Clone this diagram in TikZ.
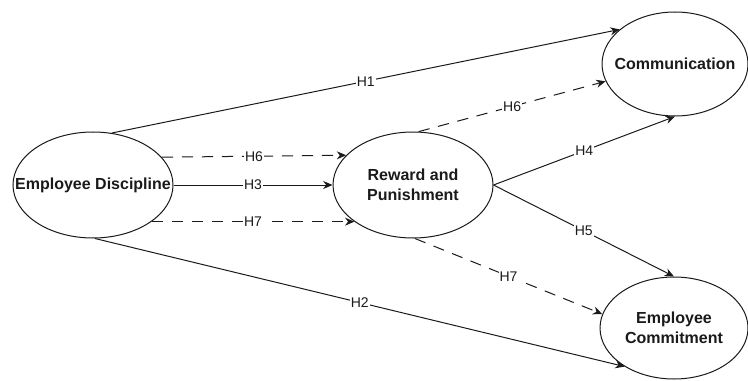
\documentclass[tikz,border=0pt]{standalone}
\usepackage{fontspec}
\setmainfont{Liberation Sans}
\usetikzlibrary{arrows.meta,shapes.geometric}
\definecolor{ink}{HTML}{1A1A1A}
\tikzset{
  ent/.style={ellipse,draw=ink,line width=0.75pt,fill=white,inner sep=0pt,minimum width=120pt,minimum height=79.5pt},
  txt/.style={font=\bfseries\fontsize{12}{15}\selectfont,text=ink,align=center},
  link/.style={-{Stealth[length=7pt,width=6pt]},line width=0.75pt,color=ink},
  dlink/.style={link,dash pattern=on 8.5pt off 6.5pt},
  hyp/.style={fill=white,inner sep=0.8pt,font=\fontsize{10.5}{12}\selectfont,text=ink},
}
\begin{document}
\begin{tikzpicture}[x=0.75pt,y=-0.75pt]
    \useasboundingbox (0,0) rectangle (748,381);
    \node[ent,label={[txt]center:Employee Discipline}] (ed) at (93,185) {};
    \node[ent,label={[txt]center:Reward and\\Punishment}] (rp) at (413,185) {};
    \node[ent,minimum width=109.5pt,minimum height=78pt,label={[txt]center:Communication}] (cm) at (675,64) {};
    \node[ent,minimum width=111pt,minimum height=76.5pt,label={[txt]center:Employee\\Commitment}] (ec) at (674,328) {};
    \foreach \a/\b/\h in {ed.70/cm.148/H1,ed.-88/ec.218/H2,ed.east/rp.west/H3,rp.east/cm.-90/H4,rp.east/ec.90/H5}
      \draw[link] (\a) -- node[hyp] {\h} (\b);
    \foreach \a/\b/\h in {ed.22/rp.156/H6,rp.84/cm.194/H6,ed.-32/rp.212/H7,rp.-88/ec.169/H7}
      \draw[dlink] (\a) -- node[hyp] {\h} (\b);
\end{tikzpicture}
\end{document}
